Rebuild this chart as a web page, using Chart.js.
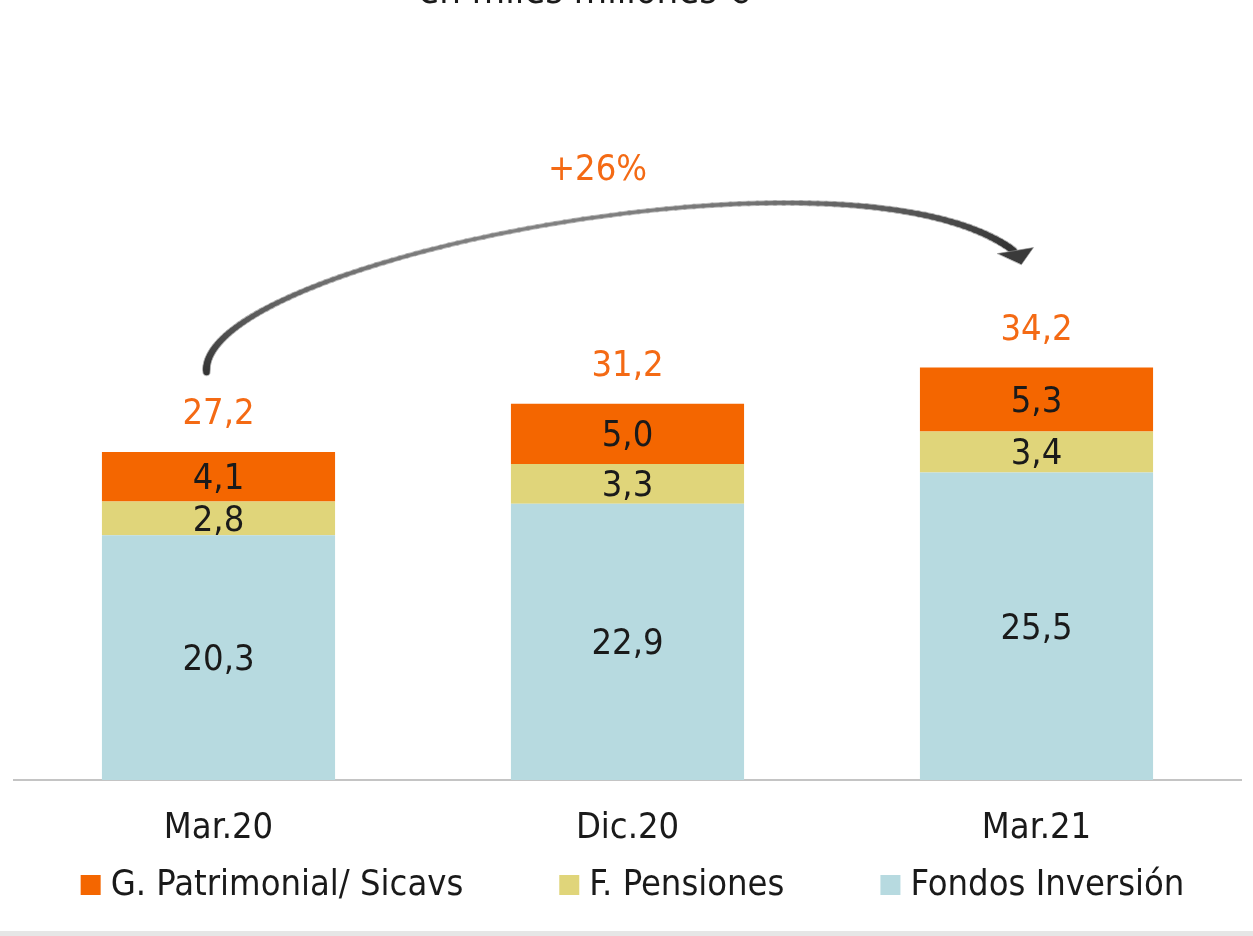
<!DOCTYPE html>
<html>
<head>
<meta charset="utf-8">
<script src="https://cdn.jsdelivr.net/npm/chart.js@4.4.1/dist/chart.umd.min.js"></script>
<style>
  html, body { margin: 0; padding: 0; background: #e6e6e6; }
  #wrap { width: 1253px; height: 931px; background: #fff; }
</style>
</head>
<body>
<div id="wrap"><canvas id="chart" width="1253" height="931"></canvas></div>
<script>
// Patrimonio gestionado, en miles millones €
const categories = ['Mar.20', 'Dic.20', 'Mar.21'];
const fondosInversion = [20.3, 22.9, 25.5];
const fPensiones = [2.8, 3.3, 3.4];
const gPatrimonial = [4.1, 5.0, 5.3];
const totals = [27.2, 31.2, 34.2];
const growthLabel = '+26%';
const unitTitle = 'en miles millones €';

const FONT = '"DejaVu Sans Condensed", "DejaVu Sans", sans-serif';
const ORANGE = '#f46600';
const ORANGE_TXT = '#f46a14';
const TEXT = '#1a1a1a';

const fmt = v => v.toFixed(1).replace('.', ',');

// segment values + totals above the bars
const valueLabels = {
  id: 'valueLabels',
  afterDatasetsDraw(chart) {
    const ctx = chart.ctx;
    ctx.save();
    ctx.textAlign = 'center';
    ctx.textBaseline = 'middle';
    ctx.font = `36px ${FONT}`;
    chart.data.datasets.forEach((ds, i) => {
      chart.getDatasetMeta(i).data.forEach((bar, j) => {
        ctx.fillStyle = TEXT;
        ctx.fillText(fmt(ds.data[j]), bar.x, (bar.y + bar.base) / 2 + 3);
      });
    });
    const topMeta = chart.getDatasetMeta(chart.data.datasets.length - 1);
    ctx.fillStyle = ORANGE_TXT;
    topMeta.data.forEach((bar, j) => {
      ctx.fillText(fmt(totals[j]), bar.x, bar.y - 37);
    });
    ctx.restore();
  }
};

// curved growth arrow from first to last bar
const growthArrow = {
  id: 'growthArrow',
  afterDraw(chart) {
    const ctx = chart.ctx;
    const bars = chart.getDatasetMeta(chart.data.datasets.length - 1).data;
    const a = bars[0], b = bars[bars.length - 1];
    const p0 = { x: a.x - 12, y: a.y - 80 };
    const p3 = { x: b.x - 23, y: b.y - 117 };
    const p1 = { x: p0.x - 8, y: p0.y - 110 };
    const p2 = { x: p3.x - 162, y: p3.y - 120 };
    const pt = t => {
      const u = 1 - t;
      return {
        x: u*u*u*p0.x + 3*u*u*t*p1.x + 3*u*t*t*p2.x + t*t*t*p3.x,
        y: u*u*u*p0.y + 3*u*u*t*p1.y + 3*u*t*t*p2.y + t*t*t*p3.y
      };
    };
    ctx.save();
    ctx.lineCap = 'round';
    const N = 120;
    for (let pass = 0; pass < 2; pass++) {
      for (let k = 0; k < N; k++) {
        const t0 = k / N, t1 = (k + 1) / N, tm = (t0 + t1) / 2;
        const s = Math.sin(Math.PI * tm);
        const w = 6.5 - 3.5 * s;
        const g = Math.round(0x33 + (0x80 - 0x33) * s);
        const q0 = pt(t0), q1 = pt(t1);
        ctx.beginPath();
        ctx.moveTo(q0.x, q0.y);
        ctx.lineTo(q1.x, q1.y);
        if (pass === 0) {
          ctx.strokeStyle = 'rgba(150,150,150,0.6)';
          ctx.lineWidth = w + 2;
        } else {
          ctx.strokeStyle = `rgb(${g},${g},${g})`;
          ctx.lineWidth = w;
        }
        ctx.stroke();
      }
    }
    // arrow head
    ctx.beginPath();
    ctx.moveTo(p3.x - 16, p3.y + 3);
    ctx.lineTo(p3.x + 20, p3.y - 3);
    ctx.lineTo(p3.x + 8, p3.y + 14);
    ctx.closePath();
    ctx.fillStyle = '#3a3a3a';
    ctx.strokeStyle = 'rgba(150,150,150,0.6)';
    ctx.lineWidth = 1;
    ctx.fill();
    ctx.stroke();
    // growth text
    ctx.font = `36px ${FONT}`;
    ctx.textAlign = 'center';
    ctx.textBaseline = 'middle';
    ctx.fillStyle = ORANGE_TXT;
    ctx.fillText(growthLabel, (a.x + b.x) / 2 - 30, b.y - 197);
    // cropped unit title at the very top
    ctx.fillStyle = TEXT;
    ctx.textBaseline = 'alphabetic';
    ctx.font = `38px ${FONT}`;
    ctx.fillText(unitTitle, 584, 3);
    ctx.restore();
  }
};

// legend row under the axis labels
const bottomLegend = {
  id: 'bottomLegend',
  afterDraw(chart) {
    const ctx = chart.ctx;
    const ds = chart.data.datasets.slice().reverse();
    const box = 20, gapText = 10, gapItem = 96, yMid = 885;
    ctx.save();
    ctx.font = `36px ${FONT}`;
    ctx.textBaseline = 'middle';
    ctx.textAlign = 'left';
    const widths = ds.map(d => box + gapText + ctx.measureText(d.label).width);
    const total = widths.reduce((s, w) => s + w, 0) + gapItem * (ds.length - 1);
    const ca = chart.chartArea;
    let x = (ca.left + ca.right) / 2 + 5 - total / 2;
    ds.forEach((d, i) => {
      ctx.fillStyle = d.backgroundColor;
      ctx.fillRect(x, yMid - box / 2, box, box);
      ctx.fillStyle = TEXT;
      ctx.fillText(d.label, x + box + gapText, yMid + 1);
      x += widths[i] + gapItem;
    });
    ctx.restore();
  }
};

new Chart(document.getElementById('chart'), {
  type: 'bar',
  data: {
    labels: categories,
    datasets: [
      { label: 'Fondos Inversión', data: fondosInversion, backgroundColor: '#b7dae0' },
      { label: 'F. Pensiones', data: fPensiones, backgroundColor: '#e0d57a' },
      { label: 'G. Patrimonial/ Sicavs', data: gPatrimonial, backgroundColor: ORANGE }
    ]
  },
  options: {
    responsive: false,
    animation: false,
    layout: { padding: { left: 14, right: 12, top: 177, bottom: 0 } },
    datasets: { bar: { categoryPercentage: 1, barPercentage: 0.57, borderWidth: 0 } },
    plugins: { legend: { display: false }, tooltip: { enabled: false } },
    scales: {
      x: {
        stacked: true,
        grid: { display: false, drawTicks: false },
        border: { display: true, color: '#c4c4c4', width: 2 },
        ticks: { color: TEXT, padding: 27, font: { family: FONT, size: 36 } },
        afterFit: s => { s.height = 151; }
      },
      y: {
        stacked: true,
        display: false,
        min: 0,
        max: 50
      }
    }
  },
  plugins: [valueLabels, growthArrow, bottomLegend]
});
</script>
</body>
</html>
